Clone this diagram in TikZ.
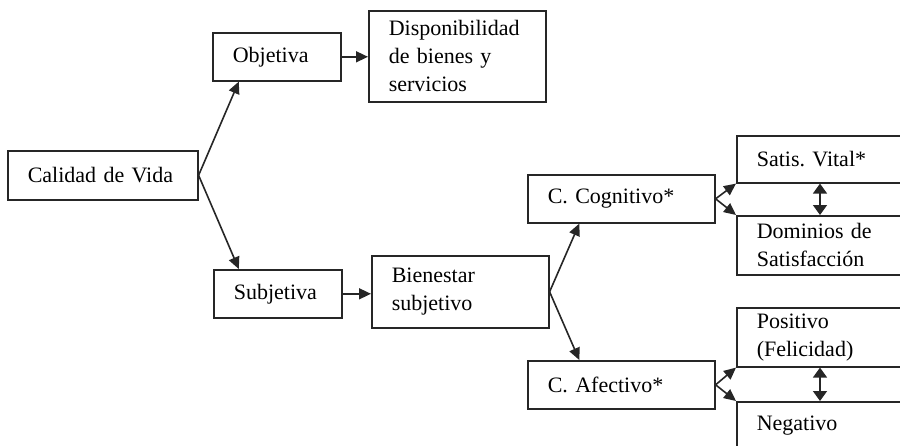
\documentclass[tikz,border=0pt]{standalone}
\usepackage{fontspec}
\setmainfont{Liberation Serif}
\usetikzlibrary{arrows.meta, calc}
\definecolor{boxline}{HTML}{262626}
\frenchspacing

\begin{document}
\begin{tikzpicture}[x=1pt, y=-1pt,
    box/.style={draw=boxline, line width=1.6pt, rectangle, anchor=north west, align=left,
        inner xsep=20pt, inner ysep=0pt, text width=#1, font=\fontsize{22}{28}\selectfont},
    arrow/.style={-{Triangle[length=12pt, width=11pt]}, color=boxline, line width=1.6pt},
    dblarrow/.style={{Triangle[length=10pt, width=14pt]}-{Triangle[length=10pt, width=14pt]}, color=boxline, line width=1.6pt}
]
\useasboundingbox (0,0) rectangle (900,445);
\clip (0,0) rectangle (900,445);

% Root
\node[box=150pt, minimum height=49pt] (cal) at (7,150) {Calidad de Vida};

% Objective branch
\node[box=88pt, minimum height=48pt] (obj) at (212,32) {Objetiva};
\node[box=137pt, minimum height=91pt] (disp) at (368,10) {Disponibilidad\\de bienes y\\servicios};

% Subjective branch
\node[box=88pt, minimum height=48pt] (sub) at (213,269) {Subjetiva};
\node[box=137pt, minimum height=72pt] (bien) at (371,255) {Bienestar\\subjetivo};
\node[box=147pt, minimum height=48pt] (cog) at (527,174) {C. Cognitivo*};
\node[box=147pt, minimum height=48pt] (aff) at (527,360) {C. Afectivo*};

% Components
\node[box=150pt, minimum height=47pt] (sat) at (736,135) {Satis. Vital*};
\node[box=150pt, minimum height=59pt] (dom) at (736,215) {Dominios de\\Satisfacción};
\node[box=150pt, minimum height=59pt] (pos) at (736,307) {Positivo\\(Felicidad)};
\node[box=150pt, minimum height=47pt] (neg) at (736,401) {Negativo};

% Connections
\draw[arrow] (cal.east) -- ([xshift=-38pt]obj.south);
\draw[arrow] (cal.east) -- ([xshift=-39pt]sub.north);
\draw[arrow] (obj.east) -- (obj.east -| disp.west);
\draw[arrow] (sub.east) -- (sub.east -| bien.west);
\draw[arrow] (bien.east) -- ([xshift=-42pt]cog.south);
\draw[arrow] (bien.east) -- ([xshift=-42pt]aff.north);
\draw[arrow] (cog.east) -- (sat.south west);
\draw[arrow] (cog.east) -- (dom.north west);
\draw[arrow] (aff.east) -- (pos.south west);
\draw[arrow] (aff.east) -- (neg.north west);
\draw[dblarrow] ([xshift=84pt]sat.south west) -- ([xshift=84pt]dom.north west);
\draw[dblarrow] ([xshift=84pt]pos.south west) -- ([xshift=84pt]neg.north west);

\end{tikzpicture}
\end{document}
